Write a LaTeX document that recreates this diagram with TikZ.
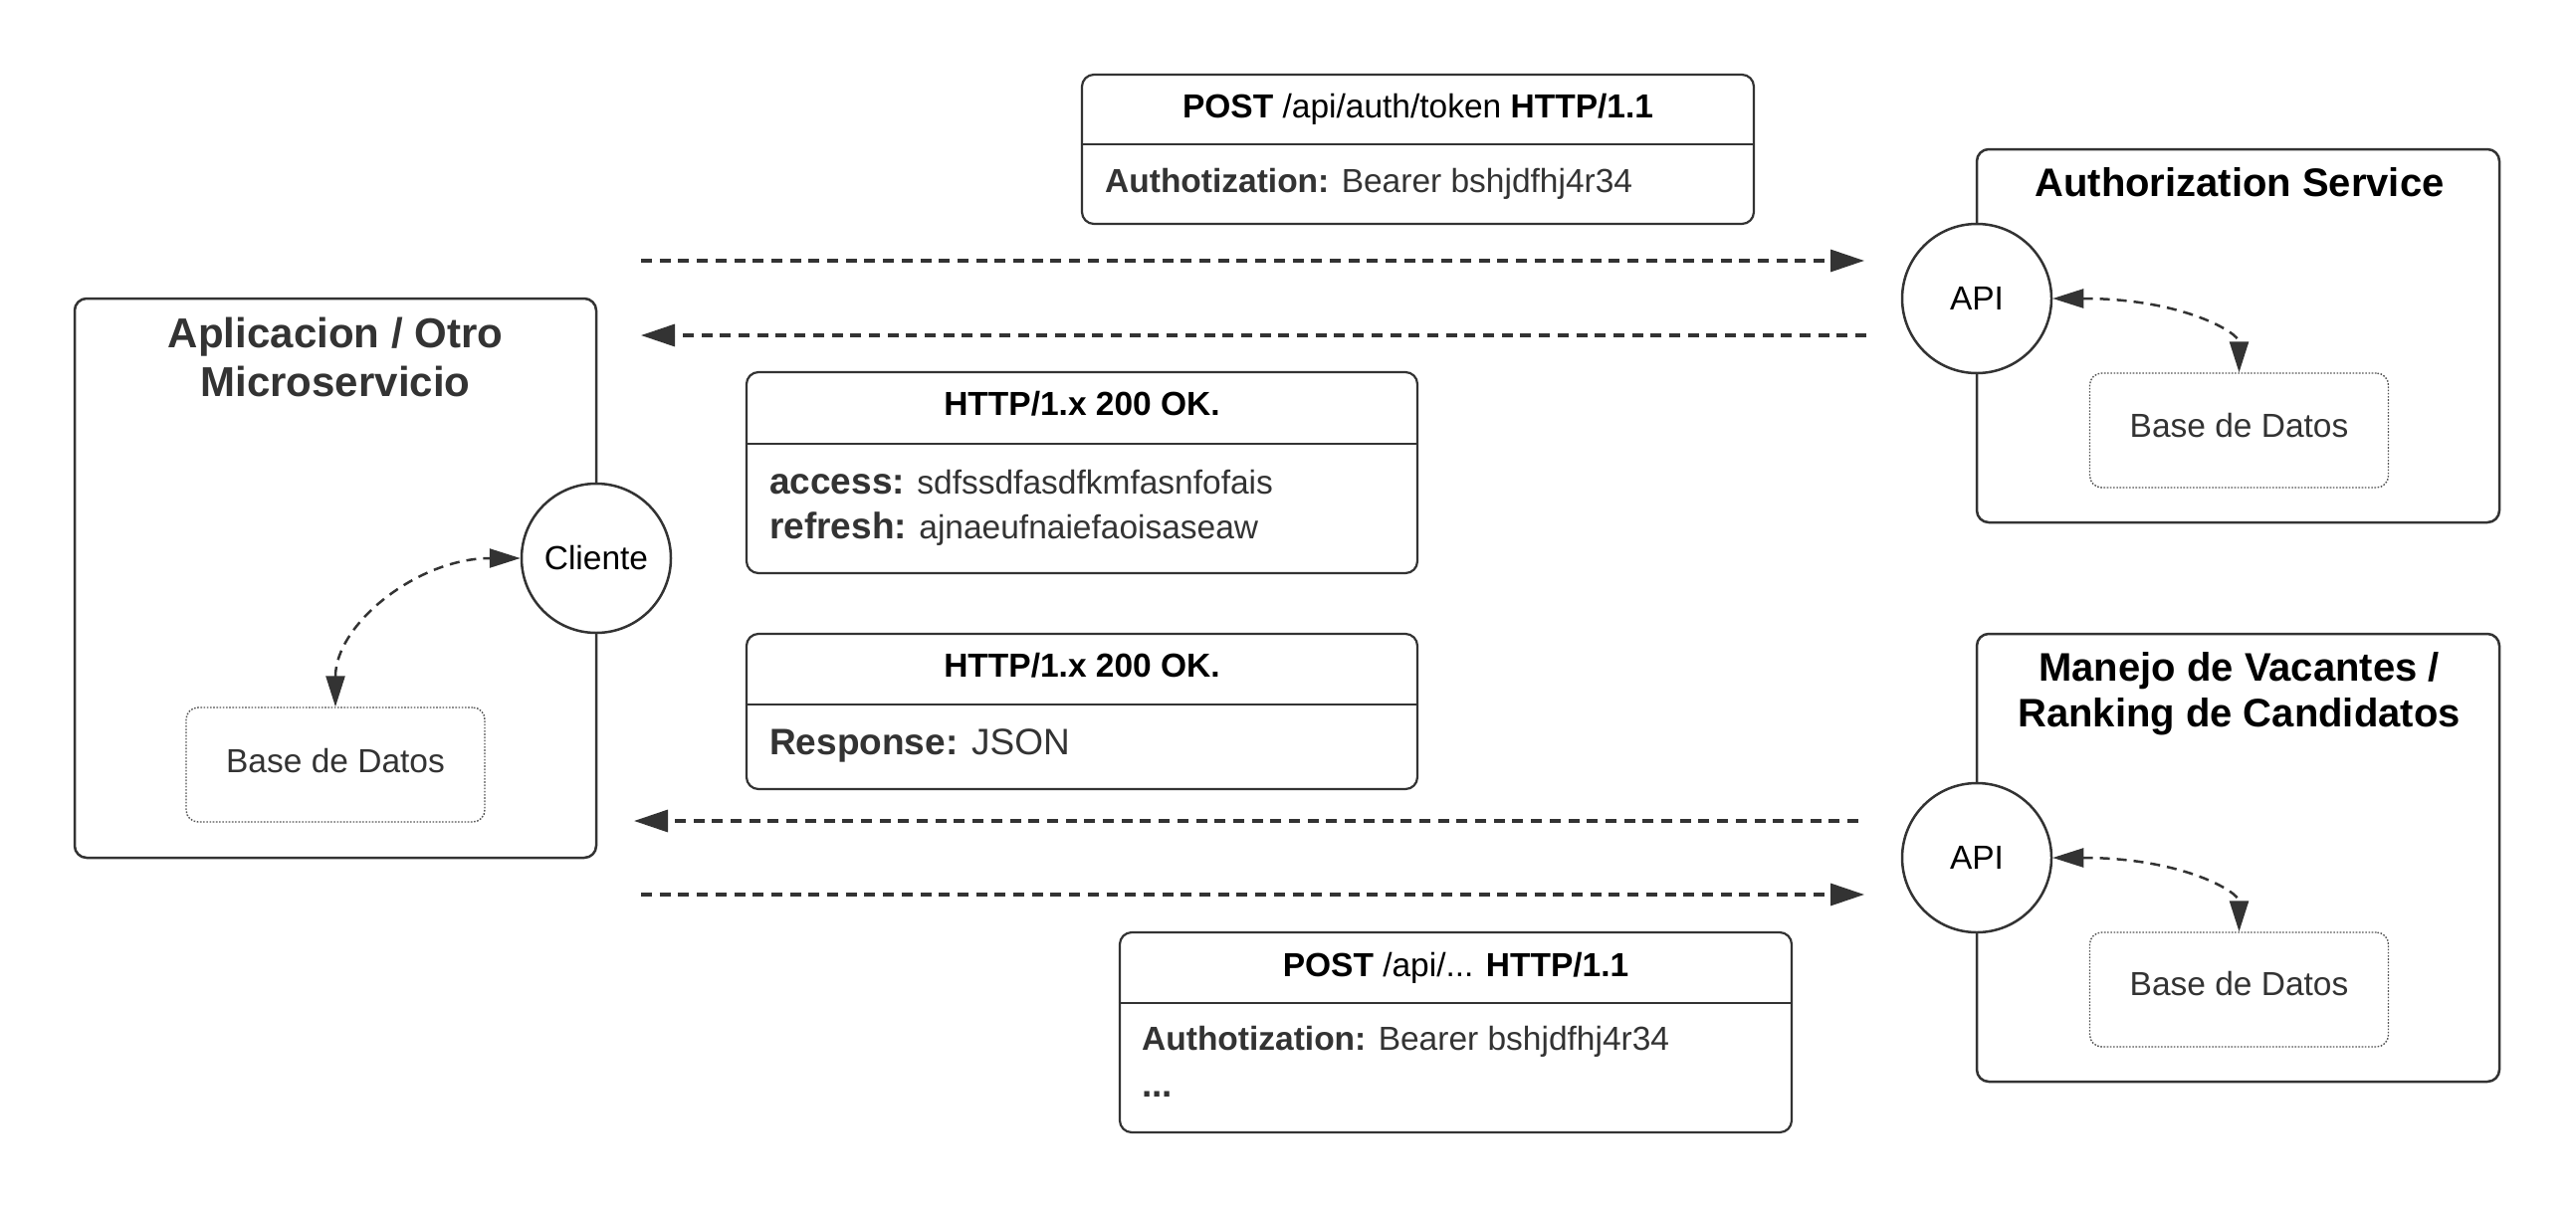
\documentclass[tikz,border=0pt]{standalone}
\usepackage{fontspec}
\setmainfont{Liberation Sans}
\usetikzlibrary{arrows.meta}
\definecolor{dk}{HTML}{333333}
\definecolor{dotc}{HTML}{555555}
\begin{document}
\begin{tikzpicture}[x=1pt,y=-1pt,
  svcbox/.style={draw=dk,line width=2.5pt,rounded corners=12pt,inner sep=0pt},
  msgbox/.style={draw=dk,line width=2.2pt,rounded corners=12pt,inner sep=0pt},
  dbbox/.style={draw=dotc,line width=1.4pt,dash pattern=on 1.6pt off 1.6pt,rounded corners=12pt,inner sep=0pt,minimum width=300pt,minimum height=115pt},
  port/.style={circle,draw=dk,line width=2.5pt,fill=white,minimum size=150pt,inner sep=0pt,font=\fontsize{33.5}{40}\selectfont,text=black},
  divider/.style={draw=dk,line width=2pt},
  txt/.style={inner sep=0pt,anchor=base west,font=\fontsize{33.5}{40}\selectfont,text=dk},
  dbtxt/.style={inner sep=0pt,anchor=base,font=\fontsize{33.5}{40}\selectfont,text=dk},
  mtitle/.style={inner sep=0pt,anchor=base,font=\fontsize{33.5}{40}\selectfont,text=black},
  stitle/.style={inner sep=0pt,anchor=base,align=center,font=\fontsize{40}{47}\selectfont\bfseries,text=black},
  msg/.style={draw=dk,line width=3.3pt,dash pattern=on 11pt off 7.7pt,-{Triangle[length=34pt,width=22pt,fill=dk]}},
  inner/.style={draw=dk,line width=2.5pt,dash pattern=on 10pt off 7pt,{Triangle[length=31pt,width=19pt,fill=dk]}-{Triangle[length=31pt,width=19pt,fill=dk]}}
]
\useasboundingbox (0,0) rectangle (2588,1213);
\fill[white] (0,0) rectangle (2588,1213);

% service boxes
\node[svcbox,minimum width=524pt,minimum height=562pt] (app) at (337,581) {};
\node[svcbox,minimum width=525pt,minimum height=375pt] (auth) at (2248.5,337.5) {};
\node[svcbox,minimum width=525pt,minimum height=450pt] (vac) at (2248.5,862) {};

\node[stitle,text=dk,font=\fontsize{42}{49}\selectfont\bfseries] (apptitle) at (337,398.4) {Aplicacion / Otro\\Microservicio};
\node[stitle] (authtitle) at (2250,197) {Authorization Service};
\node[stitle,font=\fontsize{40}{46}\selectfont\bfseries] (vactitle) at (2249.5,730) {Manejo de Vacantes /\\Ranking de Candidatos};

% databases
\node[dbbox] (dbapp) at (337,768.5) {};
\node[dbtxt] at (337,776.5) {Base de Datos};
\node[dbbox] (dbauth) at (2249.5,432.5) {};
\node[dbtxt] at (2249.5,439) {Base de Datos};
\node[dbbox] (dbvac) at (2249.5,994.5) {};
\node[dbtxt] at (2249.5,1000.7) {Base de Datos};

% ports
\node[port] (cli) at (599,561) {Cliente};
\node[port] (api1) at (1986,300) {API};
\node[port] (api2) at (1986,862) {API};

% inner connectors
\draw[inner] (dbapp.north) .. controls +(0,-83) and +(-103,0) .. (cli.west);
\draw[inner] (api1.east) .. controls +(130,0) and +(0,-40) .. (dbauth.north);
\draw[inner] (api2.east) .. controls +(130,0) and +(0,-40) .. (dbvac.north);

% message boxes
\node[msgbox,minimum width=675pt,minimum height=150pt] (post1) at (1424.5,150) {};
\draw[divider] (post1.west |- 0,145) -- (post1.east |- 0,145);
\node[mtitle] at (1424.5,118) {\textbf{POST} /api/auth/token \textbf{HTTP/1.1}};
\node[txt] at (1110,193) {\textbf{Authotization:} Bearer bshjdfhj4r34};

\node[msgbox,minimum width=674pt,minimum height=202pt] (ok1) at (1087,475) {};
\draw[divider] (ok1.west |- 0,446) -- (ok1.east |- 0,446);
\node[mtitle] at (1087,417.7) {\textbf{HTTP/1.x 200 OK.}};
\node[txt] at (773,496) {{\fontsize{37}{44}\selectfont\bfseries access:} sdfssdfasdfkmfasnfofais};
\node[txt] at (773,541.7) {{\fontsize{37}{44}\selectfont\bfseries refresh:} ajnaeufnaiefaoisaseaw};

\node[msgbox,minimum width=674pt,minimum height=156pt] (ok2) at (1087,715) {};
\draw[divider] (ok2.west |- 0,708) -- (ok2.east |- 0,708);
\node[mtitle] at (1087,680) {\textbf{HTTP/1.x 200 OK.}};
\node[txt,font=\fontsize{37}{44}\selectfont] at (773,758) {\textbf{Response:} JSON};

\node[msgbox,minimum width=675pt,minimum height=201pt] (post2) at (1462.5,1037.5) {};
\draw[divider] (post2.west |- 0,1008) -- (post2.east |- 0,1008);
\node[mtitle] at (1462.5,981) {\textbf{POST} /api/... \textbf{HTTP/1.1}};
\node[txt] at (1147,1055) {\textbf{Authotization:} Bearer bshjdfhj4r34};
\node[txt,font=\fontsize{37}{44}\selectfont\bfseries] at (1147,1102) {...};

% message arrows
\coordinate (r1s) at (644,262);
\coordinate (r1e) at (1873,262);
\coordinate (l1s) at (1875,337);
\coordinate (l1e) at (644,337);
\coordinate (l2s) at (1867,825);
\coordinate (l2e) at (637,825);
\coordinate (r2s) at (644,899);
\coordinate (r2e) at (1873,899);
\draw[msg] (r1s) -- (r1e);
\draw[msg] (l1s) -- (l1e);
\draw[msg] (l2s) -- (l2e);
\draw[msg] (r2s) -- (r2e);
\end{tikzpicture}
\end{document}
